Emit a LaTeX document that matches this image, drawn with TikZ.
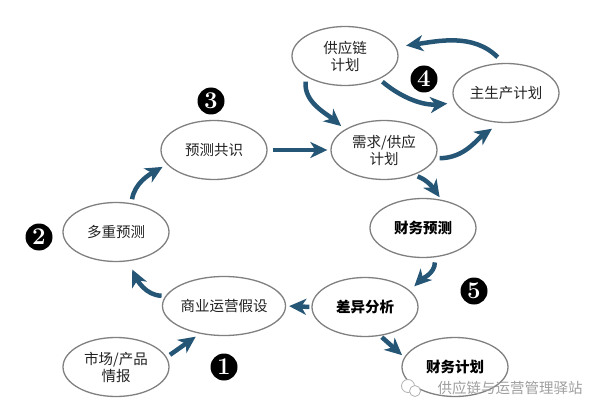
\documentclass[tikz,border=0pt]{standalone}
\usepackage{fontspec}
\newfontfamily\cjk{Noto Sans CJK SC}
\usetikzlibrary{shapes.geometric,arrows.meta}
\definecolor{arrowblue}{RGB}{38,86,118}
\definecolor{ringgray}{RGB}{128,128,128}
\definecolor{txtgray}{RGB}{34,34,34}
\tikzset{
  oval/.style={ellipse, draw=ringgray, line width=1.3pt, fill=white,
    minimum width=106pt, minimum height=59pt, inner sep=0pt,
    font=\cjk\fontsize{14.5}{17}\selectfont, text=txtgray, align=center},
  boldoval/.style={oval, font=\cjk\bfseries\fontsize{14.5}{17}\selectfont, text=black},
  numdot/.style={circle, fill=black, minimum size=27pt, inner sep=0pt,
    text=white, font=\bfseries\fontsize{24}{24}\selectfont},
  flow/.style={draw=arrowblue, line width=4.5pt,
    -{Stealth[length=17pt,width=16pt,inset=5pt]}},
}
\begin{document}
\begin{tikzpicture}[x=1pt,y=1pt]
\useasboundingbox (0,0) rectangle (600,416);
% nodes
\node[oval] (sc) at (345,360) {供应链\\计划};
\node[oval] (mp) at (506,323) {主生产计划};
\node[oval] (ds) at (384,266) {需求/供应\\计划};
\node[oval] (fore) at (214,266) {预测共识};
\node[oval] (multi) at (116,184) {多重预测};
\node[oval] (biz) at (224,110) {商业运营假设};
\node[oval] (mkt) at (116,49) {市场/产品\\情报};
\node[boldoval] (ff) at (423,188) {财务预测};
\node[boldoval] (dv) at (365,109) {差异分析};
\node[boldoval] (fp) at (455,49) {财务计划};
% numbers
\node[numdot] (n1) at (224,49) {1};
\node[numdot] (n2) at (39,179) {2};
\node[numdot] (n3) at (211,315) {3};
\node[numdot] (n4) at (424,337) {4};
\node[numdot] (n5) at (474,125) {5};
% arrows
\draw[flow, shorten <=4pt, shorten >=5pt] (mkt.11) -- (biz.229);
\draw[flow, shorten <=4pt, shorten >=9pt] (biz.170) to[out=180,in=-65] (multi.-67);
\draw[flow, shorten <=4pt, shorten >=5pt] (multi.62) to[out=80,in=210] (fore.197);
\draw[flow, shorten <=5pt, shorten >=3pt] (fore.east) -- (ds.west);
\draw[flow, shorten <=5pt, shorten >=5pt] (sc.208) to[out=-95,in=140] (ds.152);
\draw[flow, shorten <=4pt, shorten >=8pt] (sc.-34) to[out=-40,in=185] (mp.191);
\draw[flow, shorten <=8pt, shorten >=10pt] (mp.95) to[out=135,in=8] (sc.10);
\draw[flow, shorten <=4pt, shorten >=10pt] (ds.-9) to[out=0,in=215] (mp.259);
\draw[flow, shorten <=4pt, shorten >=3pt] (ds.-40) to[out=-20,in=125] (ff.57);
\draw[flow, shorten <=5pt, shorten >=6pt] (ff.-68) to[out=-90,in=45] (dv.20);
\draw[flow, shorten <=2pt, shorten >=3pt] (dv.west) -- (biz.east);
\draw[flow, shorten <=2pt, shorten >=3pt] (dv.-62) -- (fp.169);
% watermark
\coordinate (wm) at (411,28);
\draw[gray!60, line width=0.8pt, fill=white] ([shift={(-3,2)}]wm) circle (6.5);
\draw[gray!60, line width=0.8pt, fill=white] ([shift={(4,-3)}]wm) circle (5.5);
\node[font=\cjk\fontsize{14.5}{14.5}\selectfont, text=gray!75, anchor=west] (wmtext) at (434,28) {供应链与运营管理驿站};
\end{tikzpicture}
\end{document}
